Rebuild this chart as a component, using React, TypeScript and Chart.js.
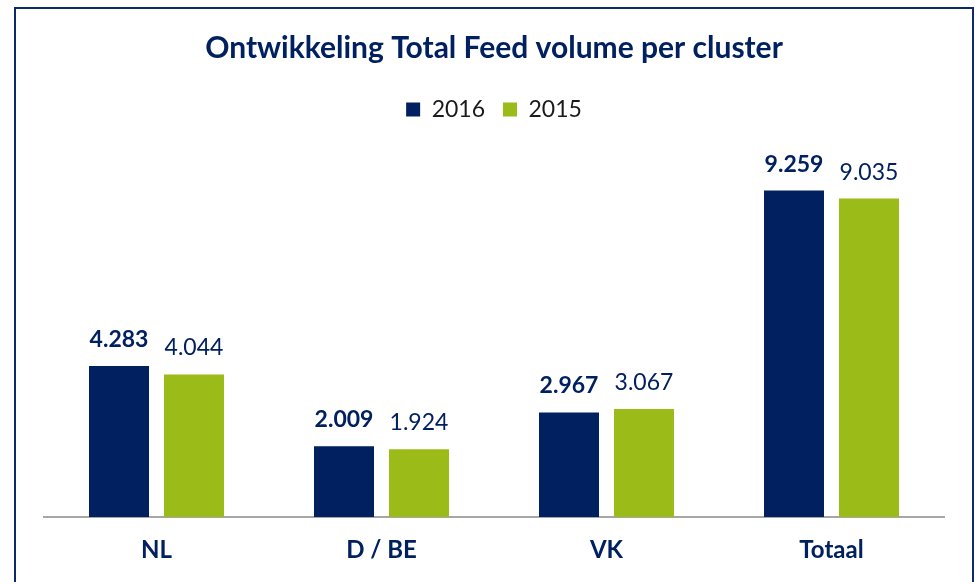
import React, { useEffect, useRef } from "react";
import { Chart, registerables } from "chart.js";

Chart.register(...registerables);

const categories = ["NL", "D / BE", "VK", "Totaal"];
const series2016 = [4283, 2009, 2967, 9259];
const series2015 = [4044, 1924, 3067, 9035];
const seriesLabels = ["2016", "2015"];

const NAVY = "#002060";
const GREEN = "#9BBB19";
const FONT = "Lato, 'Open Sans', sans-serif";

function fmt(v: number): string {
  const th = Math.floor(v / 1000);
  const rest = String(v % 1000).padStart(3, "0");
  return th > 0 ? `${th}.${rest}` : String(v);
}

const valueLabels = {
  id: "valueLabels",
  afterDatasetsDraw(chart: any) {
    const ctx = chart.ctx;
    ctx.save();
    chart.data.datasets.forEach((ds: any, di: number) => {
      const meta = chart.getDatasetMeta(di);
      ctx.font = `${di === 0 ? "bold " : ""}23px ${FONT}`;
      ctx.fillStyle = NAVY;
      ctx.textAlign = "center";
      ctx.textBaseline = "alphabetic";
      meta.data.forEach((bar: any, i: number) => {
        ctx.fillText(fmt(ds.data[i]), bar.x, bar.y - 19);
      });
    });
    ctx.restore();
  },
};

export default function App() {
  const ref = useRef<HTMLCanvasElement | null>(null);
  useEffect(() => {
    if (!ref.current) return;
    const chart = new Chart(ref.current, {
      type: "bar",
      data: {
        labels: categories,
        datasets: [
          { label: seriesLabels[0], data: series2016, backgroundColor: NAVY, categoryPercentage: 2 / 3, barPercentage: 0.8 },
          { label: seriesLabels[1], data: series2015, backgroundColor: GREEN, categoryPercentage: 2 / 3, barPercentage: 0.8 },
        ],
      },
      options: {
        animation: false,
        responsive: false,
        maintainAspectRatio: false,
        layout: { padding: { left: 44, right: 31, top: 0, bottom: 0 } },
        plugins: {
          title: {
            display: true,
            text: "Ontwikkeling Total Feed volume per cluster",
            color: NAVY,
            font: { family: FONT, size: 30, weight: "bold", lineHeight: 1.2 },
            padding: { top: 30, bottom: 14 },
          },
          legend: {
            display: true,
            labels: {
              boxWidth: 14,
              boxHeight: 14,
              padding: 18,
              color: "#1a1a1a",
              font: { family: FONT, size: 23 },
            },
          },
          tooltip: { enabled: false },
        },
        scales: {
          x: {
            grid: { display: false, drawTicks: false },
            border: { display: true, color: "#A6A6A6", width: 2 },
            ticks: { color: NAVY, padding: 19, font: { family: FONT, size: 24, weight: "bold", lineHeight: 1.2 } },
            afterFit: (scale: any) => {
              scale.height = 65;
            },
          },
          y: {
            display: false,
            min: 0,
            max: 10950,
          },
        },
      },
      plugins: [valueLabels],
    });
    return () => chart.destroy();
  }, []);
  return (
    <div style={{ position: "absolute", left: 0, top: 0, width: 975, height: 582, background: "#fff" }}>
      <canvas ref={ref} width={975} height={582} style={{ display: "block", width: 975, height: 582 }} />
      <div
        style={{
          position: "absolute",
          left: 14,
          top: 7,
          width: 956,
          height: 600,
          borderTop: "2px solid #0E2A66",
          borderLeft: "2px solid #0E2A66",
          borderRight: "2px solid #0E2A66",
          pointerEvents: "none",
          boxSizing: "content-box",
        }}
      />
    </div>
  );
}
